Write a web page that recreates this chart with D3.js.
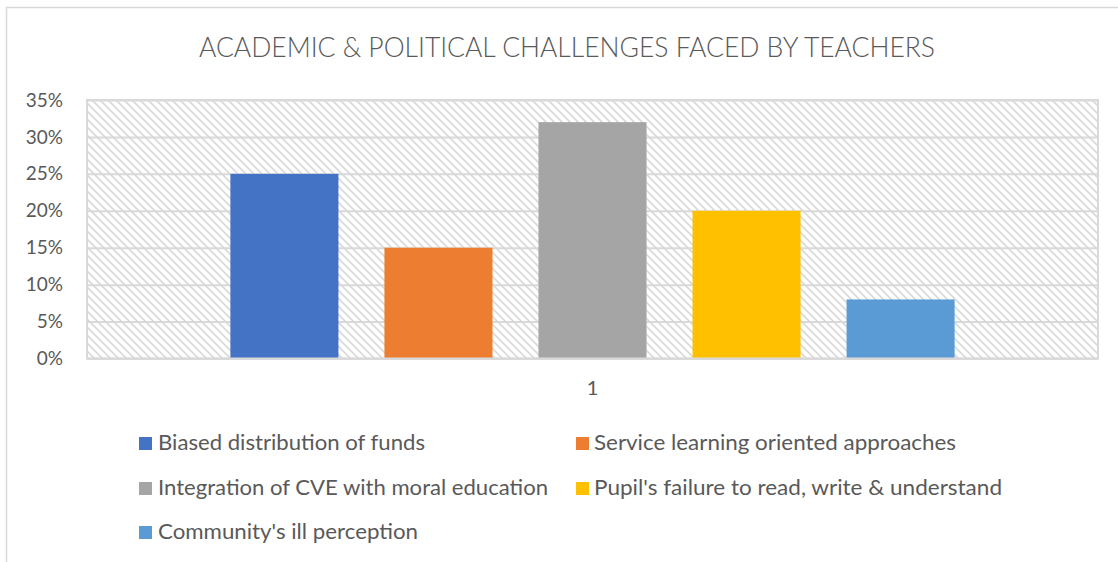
<!DOCTYPE html>
<html>
<head>
<meta charset="utf-8">
<script src="https://cdn.jsdelivr.net/npm/d3@7"></script>
<style>
  html, body { margin: 0; padding: 0; background: #fff; }
  svg { display: block; }
  text { font-family: Lato, "Open Sans", sans-serif; fill: #595959; }
</style>
</head>
<body>
<svg id="chart" width="1118" height="562"></svg>
<script>
const title = "ACADEMIC & POLITICAL CHALLENGES FACED BY TEACHERS";
const categories = ["1"];
const seriesNames = [
  "Biased distribution of funds",
  "Service learning oriented approaches",
  "Integration of CVE with moral education",
  "Pupil's failure to read, write & understand",
  "Community's ill perception"
];
const seriesValues = [0.25, 0.15, 0.32, 0.20, 0.08];
const seriesColors = ["#4472C4", "#ED7D31", "#A5A5A5", "#FFC000", "#5B9BD5"];
const yTicks = [0, 0.05, 0.10, 0.15, 0.20, 0.25, 0.30, 0.35];

const svg = d3.select("#chart");
const W = 1118, H = 562;
const plot = { left: 87, right: 1098, top: 100, bottom: 358.5 };

// outer chart border
svg.append("rect")
  .attr("x", 6.5).attr("y", 7.5).attr("width", 1300).attr("height", 700)
  .attr("fill", "#fff").attr("stroke", "#d9d9d9").attr("stroke-width", 1.5);

// hatch pattern
const defs = svg.append("defs");
const pat = defs.append("pattern")
  .attr("id", "hatch").attr("patternUnits", "userSpaceOnUse")
  .attr("width", 8).attr("height", 8);
pat.append("rect").attr("width", 8).attr("height", 8).attr("fill", "#fff");
pat.append("path").attr("d", "M-2,-2 L10,10 M-2,6 L2,10 M6,-2 L10,2")
  .attr("stroke", "#d9d9d9").attr("stroke-width", 1.6);

// title
const tt = svg.append("text")
  .attr("x", 567).attr("y", 57)
  .attr("text-anchor", "middle")
  .style("font-size", "27px").style("font-weight", 300)
  .text(title);
tt.attr("textLength", 736).attr("lengthAdjust", "spacingAndGlyphs");

const y = d3.scaleLinear().domain([0, 0.35]).range([plot.bottom, plot.top]);
const x0 = d3.scaleBand().domain(categories).range([plot.left, plot.right])
  .paddingInner(0).paddingOuter(0.198);
const x1 = d3.scaleBand().domain(seriesNames).range([0, x0.bandwidth()])
  .paddingInner(0.2987).paddingOuter(0);

// plot area background with hatch
svg.append("rect")
  .attr("x", plot.left).attr("y", plot.top)
  .attr("width", plot.right - plot.left).attr("height", plot.bottom - plot.top)
  .attr("fill", "url(#hatch)");

// gridlines
const grid = svg.append("g").attr("transform", `translate(${plot.left},0)`)
  .call(d3.axisLeft(y).tickValues(yTicks).tickSize(-(plot.right - plot.left)).tickFormat(""));
grid.select(".domain").remove();
grid.selectAll("line").attr("stroke", "#d9d9d9").attr("stroke-width", 2);

// plot border
svg.append("rect")
  .attr("x", plot.left).attr("y", plot.top)
  .attr("width", plot.right - plot.left).attr("height", plot.bottom - plot.top)
  .attr("fill", "none").attr("stroke", "#d9d9d9").attr("stroke-width", 2);

// bars
const groups = svg.append("g").selectAll("g").data(categories).join("g")
  .attr("transform", d => `translate(${x0(d)},0)`);
groups.selectAll("rect")
  .data(() => seriesNames.map((n, i) => ({ name: n, value: seriesValues[i], color: seriesColors[i] })))
  .join("rect")
  .attr("x", d => x1(d.name))
  .attr("width", x1.bandwidth())
  .attr("y", d => y(d.value))
  .attr("height", d => y(0) - y(d.value))
  .attr("fill", d => d.color);

// bottom axis line
svg.append("line")
  .attr("x1", plot.left).attr("x2", plot.right)
  .attr("y1", plot.bottom).attr("y2", plot.bottom)
  .attr("stroke", "#d9d9d9").attr("stroke-width", 2);

// y axis labels
const yAxis = svg.append("g").attr("transform", `translate(${plot.left},0)`)
  .call(d3.axisLeft(y).tickValues(yTicks).tickSize(0).tickPadding(24).tickFormat(d3.format(".0%")));
yAxis.select(".domain").remove();
yAxis.selectAll("text")
  .attr("fill", "#595959")
  .style("font-family", "Lato, 'Open Sans', sans-serif")
  .style("font-size", "19px");

// x axis labels
const xAxis = svg.append("g").attr("transform", `translate(0,${plot.bottom})`)
  .call(d3.axisBottom(x0).tickSize(0).tickPadding(22));
xAxis.select(".domain").remove();
xAxis.selectAll("text")
  .attr("fill", "#595959")
  .style("font-family", "Lato, 'Open Sans', sans-serif")
  .style("font-size", "20px");

// legend
const legendPos = [
  { sx: 139, tx: 158, y: 450, w: 267 },
  { sx: 576, tx: 594, y: 450, w: 362 },
  { sx: 139, tx: 158, y: 495, w: 390 },
  { sx: 576, tx: 594, y: 495, w: 408 },
  { sx: 139, tx: 158, y: 539, w: 260 }
];
const leg = svg.append("g").selectAll("g")
  .data(seriesNames.map((n, i) => ({ name: n, color: seriesColors[i], p: legendPos[i] })))
  .join("g");
leg.append("rect")
  .attr("x", d => d.p.sx).attr("y", d => d.p.y - 13)
  .attr("width", 13).attr("height", 13)
  .attr("fill", d => d.color);
leg.append("text")
  .attr("x", d => d.p.tx).attr("y", d => d.p.y)
  .style("font-size", "21px")
  .attr("textLength", d => d.p.w).attr("lengthAdjust", "spacingAndGlyphs")
  .text(d => d.name);
</script>
</body>
</html>
